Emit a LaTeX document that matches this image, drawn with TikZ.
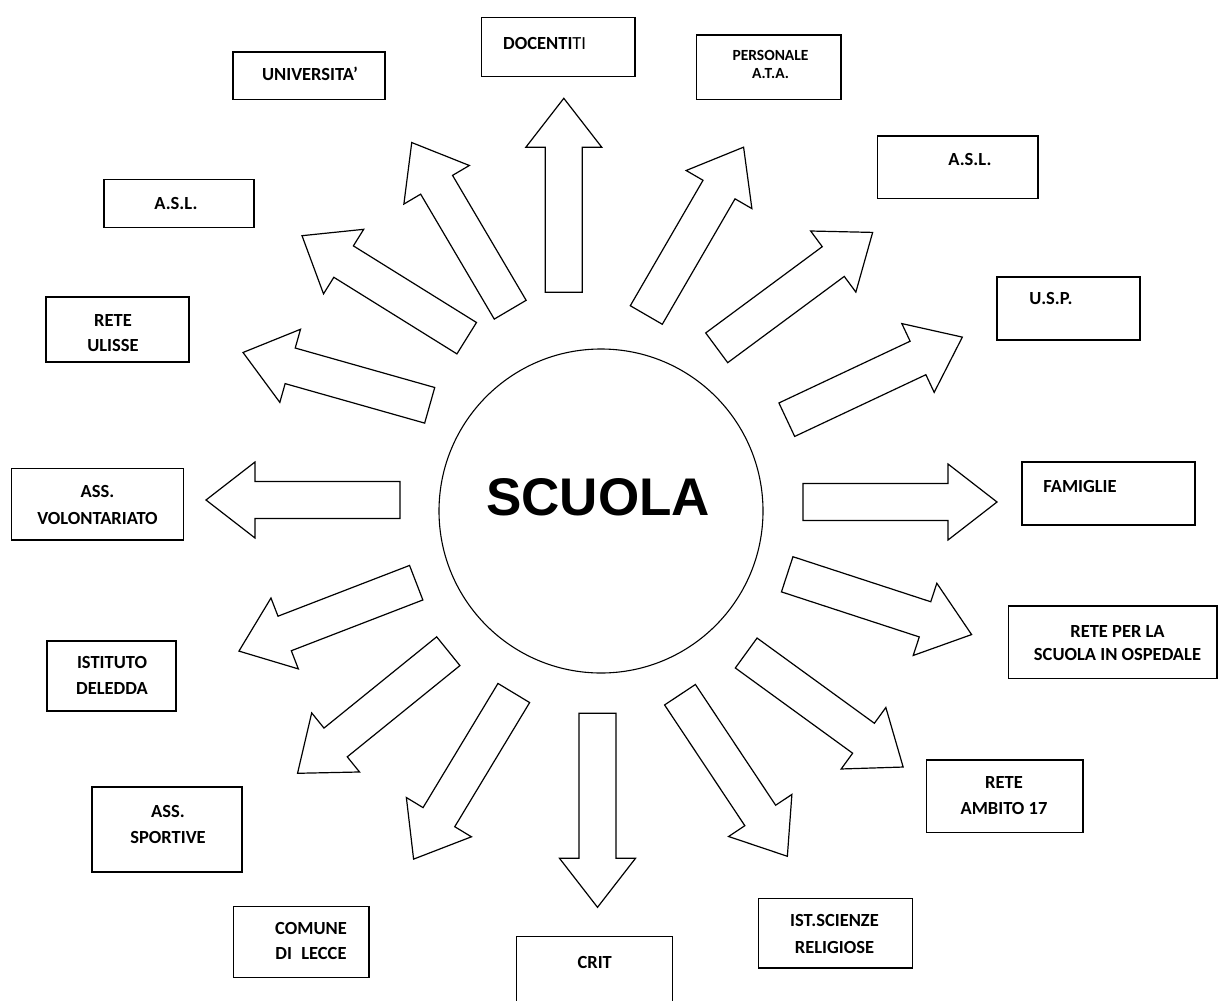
\documentclass[tikz,border=0pt]{standalone}
\usepackage{fontspec}
\setmainfont{Carlito}
\newfontfamily\scuolafont{Liberation Sans}
\usetikzlibrary{fit}
\tikzset{
  box/.style={draw, line width=1.1pt, inner sep=0pt},
  lbl/.style={font=\bfseries\fontsize{18.5}{#1}\selectfont, align=center, inner sep=0pt},
  lbl/.default=26,
  arrline/.style={draw, line width=1.2pt, line join=miter, fill=white},
}
% block arrow: tail x, tail y, math angle, length
\newcommand{\barrow}[4]{%
  \draw[arrline, shift={(#1,#2)}, rotate=#3]
    (0,18.5) -- ({#4-49},18.5) -- ({#4-49},38) -- (#4,0) -- ({#4-49},-38)
    -- ({#4-49},-18.5) -- (0,-18.5) -- cycle;}
\begin{document}
\begin{tikzpicture}[x=1pt, y=-1pt]
\useasboundingbox (0,0) rectangle (1218,1001);
\fill[white] (0,0) rectangle (1218,1001);

% centre
\node[draw, circle, line width=1.1pt, minimum size=324pt, inner sep=0pt] (circ) at (601,511) {};
\node[font=\scuolafont\bfseries\fontsize{53}{60}\selectfont, inner sep=0pt] (scuola) at (598,497) {SCUOLA};

% arrows
\barrow{510.2}{309.7}{120.5}{194}
\barrow{466.7}{338.2}{148.1}{194}
\barrow{429.7}{405.3}{164.2}{194}
\barrow{400}{500}{180}{194}
\barrow{416.2}{582.7}{201.1}{190}
\barrow{448.3}{651.2}{219}{194}
\barrow{513.8}{693}{238.9}{194}
\barrow{597.5}{713.3}{270}{194}
\barrow{680}{694.7}{303.6}{194}
\barrow{746.2}{653}{324}{194}
\barrow{787.2}{574.3}{341.9}{194}
\barrow{803}{502}{0}{194}
\barrow{786.8}{419.7}{25.2}{194}
\barrow{716.7}{347.8}{36.5}{194}
\barrow{646.3}{315}{59.9}{194}
\barrow{563.8}{292.3}{90}{194}

% boxes
\node[box, fit={(481.7,17.3) (635,76.7)}] (bdoc) {};
\node[box, fit={(696.7,35) (841,99.3)}] (bpers) {};
\node[box, fit={(233,52) (385,99.5)}] (buni) {};
\node[box, fit={(877.7,136) (1038,198.3)}] (baslr) {};
\node[box, fit={(104,179.3) (254,227.3)}] (basll) {};
\node[box, fit={(997,277) (1140,340)}] (busp) {};
\node[box, fit={(46,297) (189,362)}] (buli) {};
\node[box, fit={(11.7,468.3) (183.3,540)}] (bvol) {};
\node[box, fit={(1022,462) (1195,525)}] (bfam) {};
\node[box, fit={(1008.3,606) (1217,678.3)}] (bosp) {};
\node[box, fit={(47,641) (176,711)}] (bdel) {};
\node[box, fit={(926.7,760) (1083,832.7)}] (bamb) {};
\node[box, fit={(92,787) (242,872)}] (bspo) {};
\node[box, fit={(233.3,906.7) (369,977.3)}] (bcom) {};
\node[box, fit={(516.7,936.7) (672.3,1012)}] (bcrit) {};
\node[box, fit={(758.3,898.3) (912.7,968)}] (bist) {};

% labels
\node[lbl, anchor=west] (tdoc) at (503,43.3) {DOCENTI{\mdseries TI}};
\node[lbl, font=\bfseries\fontsize{15.5}{17.3}\selectfont] (tpers) at (770.5,64.5) {PERSONALE\\A.T.A.};
\node[lbl] (tuni) at (310,74) {UNIVERSITA’};
\node[lbl] (taslr) at (970,159) {A.S.L.};
\node[lbl] (tasll) at (176,203) {A.S.L.};
\node[lbl] (tusp) at (1051,298) {U.S.P.};
\node[lbl=25] (tuli) at (113,333.5) {RETE\\ULISSE};
\node[lbl=26.6] (tvol) at (97.5,505) {ASS.\\VOLONTARIATO};
\node[lbl] (tfam) at (1080,486) {FAMIGLIE};
\node[lbl=23.3] (tosp) at (1117.5,643.3) {RETE PER LA\\SCUOLA IN OSPEDALE};
\node[lbl] (tdel) at (112,675) {ISTITUTO\\DELEDDA};
\node[lbl] (tamb) at (1004,796) {RETE\\AMBITO 17};
\node[lbl] (tspo) at (168,824) {ASS.\\SPORTIVE};
\node[lbl=25] (tcom) at (311,940.8) {COMUNE\\DI\enspace LECCE};
\node[lbl] (tcrit) at (594.7,962.7) {CRIT};
\node[lbl=27.3] (tist) at (834.5,933.7) {IST.SCIENZE\\RELIGIOSE};
\end{tikzpicture}
\end{document}
